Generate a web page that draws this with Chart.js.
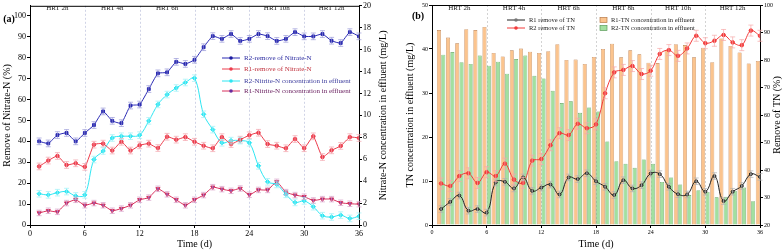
<!DOCTYPE html>
<html>
<head>
<meta charset="utf-8">
<script src="https://cdn.jsdelivr.net/npm/chart.js@4.4.1/dist/chart.umd.min.js"></script>
<style>
html, body { margin: 0; padding: 0; background: #fff; }
#wrap { position: relative; width: 782px; height: 250px; }
#ca { position: absolute; left: 0; top: 0; }
#cb { position: absolute; left: 391px; top: 0; }
</style>
</head>
<body>
<div id="wrap">
  <canvas id="ca" width="391" height="250"></canvas>
  <canvas id="cb" width="391" height="250"></canvas>
</div>
<script>
// days of operation
var days = [1, 2, 3, 4, 5, 6, 7, 8, 9, 10, 11, 12, 13, 14, 15, 16, 17, 18,
            19, 20, 21, 22, 23, 24, 25, 26, 27, 28, 29, 30, 31, 32, 33, 34, 35, 36];
var xTicks = [0, 6, 12, 18, 24, 30, 36];
var sectionEdges = [6, 12, 18, 24, 30];
var hrtLabelsA = ['HRT 2h', 'HRT 4h', 'HRT 6h', 'HTR 8h', 'HRT 10h', 'HRT 12h'];
var hrtLabelsB = ['HRT 2h', 'HRT 4h', 'HRT 6h', 'HRT 8h', 'HRT 10h', 'HRT 12h'];

// panel (a): removal (%) and nitrite (mg/L)
var r2RemoveNitrate = [40, 39, 43, 44, 40, 44, 47.8, 54.3, 49.8, 48.7, 57.1, 57.6, 65, 72.5, 73, 78, 77, 79,
                       85, 90.3, 89, 91.3, 88, 89, 91.3, 90.3, 88, 89, 92.2, 90.2, 90.2, 91.3, 88.1, 87, 92.2, 90.2];
var r1RemoveNitrate = [28, 30.8, 33, 28.7, 29.5, 27.8, 38.4, 38.9, 35.6, 39.8, 35.6, 38.1, 38.9, 36.8, 42.2, 40.8, 42, 39.8,
                       37.9, 36.7, 42, 38.7, 40.8, 42.9, 44.1, 38.7, 37.9, 36.7, 41.1, 36.7, 42.4, 32.5, 35.7, 37.8, 42, 41.6];
var r2Nitrite = [2.85, 2.75, 2.95, 3.05, 2.65, 2.75, 5.97, 6.75, 7.94, 8.1, 8.1, 8.2, 9.5, 11, 11.9, 12.5, 13, 13.4,
                 10.1, 8.7, 7.5, 7.7, 7.7, 7.5, 5.4, 3.94, 3.7, 2.8, 2.06, 2.2, 1.67, 0.85, 0.73, 0.9, 0.6, 0.8];
var r1Nitrite = [1.1, 1.3, 1.2, 2.0, 2.3, 1.8, 2.0, 1.8, 1.3, 1.5, 1.8, 2.3, 2.5, 3.3, 2.8, 2.3, 1.8, 2.3,
                 2.73, 3.45, 3.27, 3.12, 3.33, 2.76, 3.2, 3.2, 3.94, 3.0, 2.73, 2.58, 2.24, 2.36, 2.36, 2.03, 1.94, 1.9];

// panel (b): TN in effluent (mg/L) and TN removal (%)
var r1TN = [44.3, 42.6, 41.3, 44.5, 44.3, 45.0, 39.1, 38.3, 39.7, 40.1, 39.4, 39.1, 39.5, 41.1, 37.5, 37.6, 36.6, 38.2,
            40.0, 41.2, 38.1, 39.7, 38.8, 36.9, 36.8, 39.7, 41.1, 40.9, 38.1, 40.3, 37.0, 42.4, 40.7, 39.2, 36.7, 37.3];
var r2TN = [38.7, 39.3, 37.0, 36.6, 38.5, 36.2, 37.1, 34.4, 37.7, 38.5, 33.9, 33.3, 30.5, 27.7, 28.1, 25.5, 26.7, 25.8,
            19.0, 14.5, 13.9, 13.0, 14.9, 13.9, 9.8, 10.8, 9.2, 6.8, 7.9, 7.5, 6.3, 6.4, 7.8, 8.5, 5.4, 5.0];
var r1RemoveTN = [25.8, 28.4, 30.7, 25.2, 25.8, 24.5, 35.5, 35.7, 33.3, 37.3, 32.4, 33.6, 34.7, 31.1, 37.3, 36.7, 38.8, 35.9,
                  33.9, 30.9, 36.3, 33.3, 34.5, 38.7, 38.5, 33.9, 31.2, 31.1, 35.9, 32.1, 37.8, 28.7, 32.1, 34.2, 38.5, 37.5];
var r2RemoveTN = [35.1, 34.2, 37.8, 38.8, 35.3, 39.2, 37.8, 42.3, 36.5, 35.3, 43.4, 44.0, 49.0, 53.4, 52.7, 56.8, 55.2, 56.6,
                  67.9, 75.5, 76.4, 77.8, 74.9, 76.1, 82.2, 83.6, 81.5, 84.2, 88.8, 86.1, 87.0, 89.1, 86.4, 85.4, 90.7, 88.8];

Chart.defaults.font.family = '"Liberation Serif", "Times New Roman", serif';
Chart.defaults.color = '#000';

function pts(arr) {
    return days.map(function (d, i) { return { x: d, y: arr[i] }; });
}

function fixTicks(step) {
    return function (s) { s.ticks = s.ticks.filter(function (t) { return Math.abs(t.value / step - Math.round(t.value / step)) < 1e-6; }); };
}

// section lines, error bars, legends and titles
var decor = {
    id: 'decor',
    beforeDatasetsDraw: function (chart, args, o) {
        var ctx = chart.ctx, a = chart.chartArea, x = chart.scales.x;
        ctx.save();
        ctx.strokeStyle = o.sepColor;
        ctx.lineWidth = 0.8;
        ctx.setLineDash([2, 2]);
        sectionEdges.forEach(function (d) {
            var px = Math.round(x.getPixelForValue(d)) + 0.5;
            ctx.beginPath(); ctx.moveTo(px, a.top); ctx.lineTo(px, a.bottom); ctx.stroke();
        });
        ctx.restore();
    },
    afterDatasetsDraw: function (chart) {
        var ctx = chart.ctx;
        chart.data.datasets.forEach(function (ds, i) {
            if (!ds.err) return;
            var meta = chart.getDatasetMeta(i);
            var sc = chart.scales[ds.yAxisID];
            ctx.save();
            ctx.strokeStyle = ds.errColor;
            ctx.lineWidth = 0.7;
            meta.data.forEach(function (p, j) {
                var v = ds.data[j].y;
                var t = sc.getPixelForValue(v + ds.err), b = sc.getPixelForValue(v - ds.err);
                ctx.beginPath();
                ctx.moveTo(p.x, t); ctx.lineTo(p.x, b);
                ctx.moveTo(p.x - 2.5, t); ctx.lineTo(p.x + 2.5, t);
                ctx.moveTo(p.x - 2.5, b); ctx.lineTo(p.x + 2.5, b);
                ctx.stroke();
            });
            ctx.restore();
        });
    },
    afterDraw: function (chart, args, o) {
        var ctx = chart.ctx, a = chart.chartArea, x = chart.scales.x;
        ctx.save();
        // top frame line
        ctx.strokeStyle = '#000'; ctx.lineWidth = 1;
        ctx.beginPath(); ctx.moveTo(a.left, a.top + 0.5); ctx.lineTo(a.right, a.top + 0.5); ctx.stroke();
        // HRT labels
        ctx.fillStyle = '#222';
        ctx.font = o.hrtFont;
        ctx.textAlign = 'center'; ctx.textBaseline = 'middle';
        o.hrt.forEach(function (s, i) { ctx.fillText(s, x.getPixelForValue(3 + i * 6), o.hrtY); });
        // panel label
        ctx.fillStyle = '#000';
        ctx.font = 'bold 10px "Liberation Serif"';
        ctx.fillText(o.panel[0], o.panel[1], o.panel[2]);
        // axis titles
        ctx.font = '10px "Liberation Serif"';
        ctx.fillText('Time (d)', (a.left + a.right) / 2, 244);
        var mid = (a.top + a.bottom) / 2;
        [[o.leftTitle, o.leftX], [o.rightTitle, o.rightX]].forEach(function (t) {
            ctx.save();
            ctx.translate(t[1], mid);
            ctx.rotate(-Math.PI / 2);
            ctx.fillText(t[0], 0, 0);
            ctx.restore();
        });
        // legend
        ctx.font = o.legendFont;
        ctx.textAlign = 'left';
        o.legend.forEach(function (it) {
            var ds = chart.data.datasets[it.i];
            if (it.box) {
                ctx.fillStyle = ds.backgroundColor; ctx.strokeStyle = ds.borderColor; ctx.lineWidth = 0.7;
                ctx.fillRect(it.x, it.y - 2.5, 7, 5); ctx.strokeRect(it.x, it.y - 2.5, 7, 5);
                ctx.fillStyle = it.c || '#222';
                ctx.fillText(ds.label, it.x + 11, it.y);
                return;
            }
            ctx.strokeStyle = ds.borderColor; ctx.lineWidth = 1;
            ctx.beginPath(); ctx.moveTo(it.x, it.y); ctx.lineTo(it.x + 18, it.y); ctx.stroke();
            ctx.fillStyle = ds.pointBackgroundColor || ds.borderColor;
            ctx.beginPath(); ctx.arc(it.x + 9, it.y, 1.8, 0, Math.PI * 2); ctx.fill();
            ctx.fillStyle = it.c;
            ctx.fillText(ds.label, it.x + 22, it.y);
        });
        ctx.restore();
    }
};

function axisX(size) {
    return {
        type: 'linear', min: 0, max: 36, offset: false,
        afterBuildTicks: function (s) { s.ticks = xTicks.map(function (v) { return { value: v }; }); },
        ticks: { font: { size: size }, padding: 1, maxRotation: 0 },
        grid: { drawOnChartArea: false, tickLength: 3, color: '#000', offset: false },
        border: { color: '#000', width: 1 },
        afterFit: function (s) { s.height = 25; }
    };
}

function axisY(pos, min, max, step, size, w) {
    return {
        type: 'linear', position: pos, min: min, max: max,
        afterBuildTicks: fixTicks(step),
        ticks: { stepSize: step, font: { size: size }, padding: 1 },
        grid: { drawOnChartArea: false, tickLength: 3, color: '#000' },
        border: { color: '#000', width: 1 },
        afterFit: function (s) { s.width = w; }
    };
}

// Panel (a)
var chartA = new Chart(document.getElementById('ca'), {
    type: 'line',
    data: {
        datasets: [{
            label: 'R2-remove of Nitrate-N', data: pts(r2RemoveNitrate), yAxisID: 'yL',
            borderColor: '#2a2ab4', backgroundColor: '#1c1ca0', pointBackgroundColor: '#1c1ca0',
            pointStyle: 'rect', pointRadius: 2, borderWidth: 1, tension: 0.15,
            err: 1.6, errColor: '#9a9ad8'
        }, {
            label: 'R1-remove of Nitrate-N', data: pts(r1RemoveNitrate), yAxisID: 'yL',
            borderColor: '#ec3c4c', backgroundColor: '#ec3c4c', pointBackgroundColor: '#ec3c4c',
            pointStyle: 'circle', pointRadius: 1.8, borderWidth: 1, tension: 0.15,
            err: 1.6, errColor: '#f4a4ac'
        }, {
            label: 'R2-Nitrite-N concentration in effluent', data: pts(r2Nitrite), yAxisID: 'yR',
            borderColor: '#2ee6f2', backgroundColor: '#2ee6f2', pointBackgroundColor: '#2ee6f2',
            pointStyle: 'rectRot', pointRadius: 2.2, borderWidth: 1, tension: 0.35,
            err: 0.3, errColor: '#9cf0f6'
        }, {
            label: 'R1-Nitrite-N concentration in effluent', data: pts(r1Nitrite), yAxisID: 'yR',
            borderColor: '#d8305c', backgroundColor: '#6a2a9c', pointBackgroundColor: '#6a2a9c',
            pointStyle: 'triangle', pointRotation: 180, pointRadius: 2.4, borderWidth: 1, tension: 0.15,
            err: 0.25, errColor: '#d8a0c8'
        }]
    },
    options: {
        responsive: false, animation: false,
        layout: { padding: { top: 5, right: 0, bottom: 0, left: 0 } },
        elements: { point: { borderWidth: 0 } },
        plugins: {
            legend: { display: false }, tooltip: { enabled: false },
            decor: {
                sepColor: '#c4c8e0', hrt: hrtLabelsA, hrtY: 8, hrtFont: '7px "Liberation Serif"',
                panel: ['(a)', 9, 19],
                leftTitle: 'Remove of Nitrate-N (%)', leftX: 7,
                rightTitle: 'Nitrate-N concentration in effluent (mg/L)', rightX: 383,
                legendFont: '7px "Liberation Serif"',
                legend: [
                    { i: 0, x: 222, y: 58, c: '#2a2aa0' },
                    { i: 1, x: 222, y: 69, c: '#c0303c' },
                    { i: 2, x: 222, y: 81, c: '#3a3a9c' },
                    { i: 3, x: 222, y: 91, c: '#6a2060' }
                ]
            }
        },
        scales: {
            x: axisX(8),
            yL: axisY('left', 0, 104.8, 10, 8, 30),
            yR: axisY('right', 0, 20, 2, 8, 32)
        }
    },
    plugins: [decor]
});

// Panel (b)
var chartB = new Chart(document.getElementById('cb'), {
    type: 'bar',
    data: {
        datasets: [{
            type: 'line', label: 'R1 remove of TN', data: pts(r1RemoveTN), yAxisID: 'yR', order: 0,
            borderColor: '#222', backgroundColor: '#666', pointBackgroundColor: '#777',
            pointStyle: 'circle', pointRadius: 1.5, borderWidth: 1, tension: 0.45,
            err: 1.2, errColor: '#b0b0b0'
        }, {
            type: 'line', label: 'R2 remove of TN', data: pts(r2RemoveTN), yAxisID: 'yR', order: 0,
            borderColor: '#f23a3a', backgroundColor: '#f23a3a', pointBackgroundColor: '#f23a3a',
            pointStyle: 'circle', pointRadius: 1.8, borderWidth: 1, tension: 0.35,
            err: 2, errColor: '#f6a8a8'
        }, {
            label: 'R1-TN concentration in effluent', data: pts(r1TN), yAxisID: 'yL', order: 1,
            backgroundColor: '#fbc48e', borderColor: '#b87a48', borderWidth: 0.6,
            categoryPercentage: 0.96, barPercentage: 0.92
        }, {
            label: 'R2-TN concentration in effluent', data: pts(r2TN), yAxisID: 'yL', order: 1,
            backgroundColor: '#a2e0a0', borderColor: '#5c9c5a', borderWidth: 0.6,
            categoryPercentage: 0.96, barPercentage: 0.92
        }]
    },
    options: {
        responsive: false, animation: false,
        layout: { padding: { top: 5, right: 0, bottom: 0, left: 0 } },
        elements: { point: { borderWidth: 0 } },
        plugins: {
            legend: { display: false }, tooltip: { enabled: false },
            decor: {
                sepColor: '#c8c8c8', hrt: hrtLabelsB, hrtY: 8, hrtFont: '7px "Liberation Serif"',
                panel: ['(b)', 27, 16],
                leftTitle: 'TN concentration in effluent (mg/L)', leftX: 19,
                rightTitle: 'Remove of TN (%)', rightX: 386,
                legendFont: '6.5px "Liberation Serif"',
                legend: [
                    { i: 0, x: 116, y: 20, c: '#222' },
                    { i: 1, x: 116, y: 28, c: '#222' },
                    { i: 2, x: 209, y: 20, box: true },
                    { i: 3, x: 209, y: 28, box: true }
                ]
            }
        },
        scales: {
            x: axisX(6),
            yL: axisY('left', 0, 50, 10, 6, 41),
            yR: axisY('right', 20, 100, 10, 6, 22)
        }
    },
    plugins: [decor]
});
</script>
</body>
</html>
